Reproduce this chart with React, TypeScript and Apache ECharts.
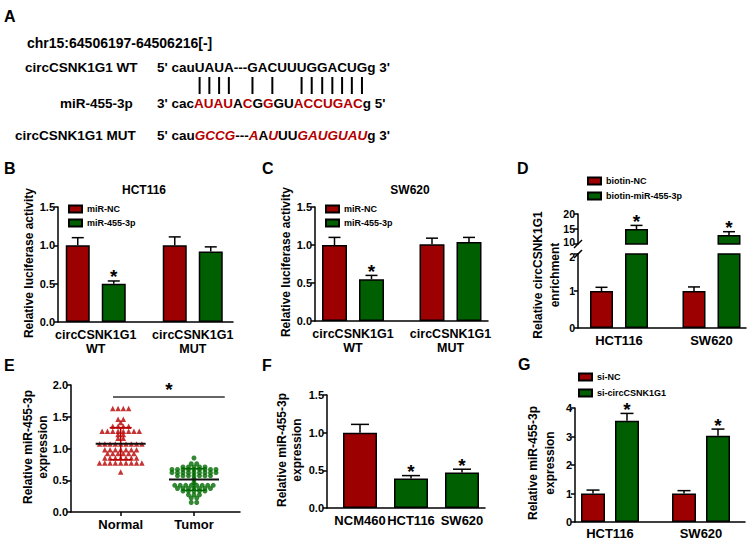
import React, { useEffect, useRef } from "react";
import * as echarts from "echarts";

const FONT = "Liberation Sans";
const BAR_RED = "#9c0000";
const BAR_GREEN = "#005f00";
const SEQ_RED = "#b40000";
const DOT_RED = "#b80000";
const DOT_GREEN = "#006a00";

// ---------- Panel A: sequences ----------
const chrLabel = "chr15:64506197-64506216[-]";
const wtName = "circCSNK1G1 WT";
const mirName = "miR-455-3p";
const mutName = "circCSNK1G1 MUT";
// [text, style] segments, k = black, r = red, ri = red italic
const wtSeq: [string, string][] = [["5' cauUAUA---GACUUUGGACUGg 3'", "k"]];
const mirSeq: [string, string][] = [
  ["3' cac", "k"], ["AUAU", "r"], ["A", "k"], ["C", "r"], ["G", "k"], ["G", "r"],
  ["GU", "k"], ["ACCUGAC", "r"], ["g 5'", "k"],
];
const mutSeq: [string, string][] = [
  ["5' cau", "k"], ["GCCG", "ri"], ["---", "k"], ["A", "ri"], ["A", "k"], ["U", "ri"],
  ["UU", "k"], ["GAUGUAU", "ri"], ["g 3'", "k"],
];
const pairIndex = [6, 7, 8, 9, 13, 15, 18, 19, 20, 21, 22, 23, 24];

// ---------- Panel B: HCT116 luciferase ----------
const bCategories = ["circCSNK1G1\nWT", "circCSNK1G1\nMUT"];
const bSeriesNames = ["miR-NC", "miR-455-3p"];
const bMiRNC = [1.0, 1.0];
const bMiRNCErr = [0.1, 0.11];
const bMiR455 = [0.5, 0.92];
const bMiR455Err = [0.035, 0.06];
const bSig = [true, false];

// ---------- Panel C: SW620 luciferase ----------
const cCategories = ["circCSNK1G1\nWT", "circCSNK1G1\nMUT"];
const cMiRNC = [1.0, 1.01];
const cMiRNCErr = [0.1, 0.08];
const cMiR455 = [0.55, 1.04];
const cMiR455Err = [0.05, 0.06];
const cSig = [true, false];

// ---------- Panel D: pull-down ----------
const dCategories = ["HCT116", "SW620"];
const dSeriesNames = ["biotin-NC", "biotin-miR-455-3p"];
const dBiotinNC = [1.0, 1.0];
const dBiotinNCErr = [0.1, 0.11];
const dBiotinMiR = [15.0, 13.0];
const dBiotinMiRErr = [1.2, 1.1];
const dSig = [true, true];

// ---------- Panel E: tissues ----------
const eCategories = ["Normal", "Tumor"];
const eNormal = [
  1.63, 1.63, 1.63, 1.63,
  1.46, 1.46, 1.41,
  1.35, 1.35, 1.35, 1.35,
  1.27, 1.27, 1.27, 1.27, 1.27, 1.27, 1.27, 1.27,
  1.22, 1.22, 1.16, 1.16,
  1.07, 1.07, 1.07, 1.07, 1.07, 1.07, 1.07, 1.07, 1.07,
  0.98, 0.98, 0.98, 0.98, 0.98, 0.98, 0.98,
  0.92, 0.92, 0.92, 0.92, 0.92, 0.92,
  0.85, 0.85, 0.85, 0.85, 0.85, 0.85, 0.85,
  0.77, 0.77, 0.77, 0.77, 0.77, 0.77, 0.77, 0.77, 0.77,
  0.63,
];
const eTumor = [
  0.85,
  0.76, 0.76,
  0.71, 0.71, 0.71, 0.71, 0.71,
  0.67, 0.67, 0.67, 0.67, 0.67, 0.67, 0.67, 0.67, 0.67,
  0.62, 0.62, 0.62, 0.62, 0.62, 0.62, 0.62, 0.62, 0.62,
  0.57, 0.57, 0.57, 0.57, 0.57, 0.57, 0.57,
  0.52, 0.46,
  0.42, 0.42, 0.42, 0.42, 0.42, 0.42, 0.42, 0.42,
  0.37, 0.37, 0.37, 0.37, 0.37, 0.37, 0.37,
  0.33, 0.33, 0.33, 0.33, 0.33,
  0.27, 0.27, 0.27,
  0.22, 0.22,
  0.15, 0.15,
];
const eSigFrom = 0.895;
const eSigTo = 2.42;
const eSigY = 1.81;

// ---------- Panel F: cell lines ----------
const fCategories = ["NCM460", "HCT116", "SW620"];
const fValues = [1.0, 0.39, 0.47];
const fErrs = [0.11, 0.04, 0.045];
const fSig = [false, true, true];

// ---------- Panel G: knockdown ----------
const gCategories = ["HCT116", "SW620"];
const gSeriesNames = ["si-NC", "si-circCSNK1G1"];
const gSiNC = [1.0, 1.0];
const gSiNCErr = [0.12, 0.1];
const gSiCirc = [3.55, 3.03];
const gSiCircErr = [0.26, 0.23];
const gSig = [true, true];

type Group = { name: string; colors: string[]; values: number[]; errs: number[]; sig: boolean[] };
type BarPanel = {
  axisLeft: number; axisRight: number; top: number; bottom: number;
  barsLeft: number; barsWidth: number;
  yMin: number; yMax: number; yInterval: number; yDecimals: number; yLabelSize?: number;
  nudgeMinUp?: boolean; nudgeMaxDown?: boolean;
  categories: string[]; groups: Group[];
  barWidth: number; gapPx: number; cap: number;
  labelSize: number; labelMargin: number; xLine: boolean; catLabels: boolean;
};

const bold = { color: "#000", fontFamily: FONT, fontWeight: "bold" as const };

function addBarPanel(opt: any, p: BarPanel) {
  const h = p.bottom - p.top;
  const lineStyle = { color: "#000", width: 1.5 };
  const gA = opt.grid.length;
  opt.grid.push({ left: p.axisLeft, top: p.top, width: p.axisRight - p.axisLeft, height: h, outerBoundsMode: "none" });
  opt.xAxis.push({
    gridIndex: gA, type: "value", min: 0, max: 1,
    axisLine: { show: p.xLine, onZero: false, lineStyle },
    axisTick: { show: false }, axisLabel: { show: false }, splitLine: { show: false },
  });
  const ls = p.yLabelSize || 11;
  opt.yAxis.push({
    gridIndex: gA, type: "value", min: p.yMin, max: p.yMax, interval: p.yInterval,
    axisLine: { show: true, onZero: false, lineStyle },
    axisTick: { show: true, length: 4, lineStyle },
    axisLabel: {
      ...bold, fontSize: ls, lineHeight: ls - 1, margin: 3,
      formatter: (v: number) => {
        const s = v.toFixed(p.yDecimals);
        if (p.nudgeMinUp && v === p.yMin) return `{lo|${s}}`;
        if (p.nudgeMaxDown && v === p.yMax) return `{hi|${s}}`;
        return s;
      },
      rich: {
        lo: { ...bold, fontSize: ls, lineHeight: ls - 1, padding: [0, 0, 5, 0] },
        hi: { ...bold, fontSize: ls, lineHeight: ls - 1, padding: [5, 0, 0, 0] },
      },
    },
    splitLine: { show: false },
  });
  const gB = opt.grid.length;
  opt.grid.push({ left: p.barsLeft, top: p.top, width: p.barsWidth, height: h, outerBoundsMode: "none" });
  const xi = opt.xAxis.length;
  opt.xAxis.push({
    gridIndex: gB, type: "category", data: p.categories,
    axisLine: { show: false }, axisTick: { show: false }, splitLine: { show: false },
    axisLabel: { show: p.catLabels, interval: 0, ...bold, fontSize: p.labelSize, lineHeight: 14, margin: p.labelMargin },
  });
  const yi = opt.yAxis.length;
  opt.yAxis.push({ gridIndex: gB, type: "value", min: p.yMin, max: p.yMax, show: false });

  p.groups.forEach((g) => {
    opt.series.push({
      type: "bar", name: g.name, xAxisIndex: xi, yAxisIndex: yi,
      barWidth: p.barWidth, barGap: `${(p.gapPx / p.barWidth) * 100}%`,
      itemStyle: { color: g.colors[0], borderColor: "#000", borderWidth: 1.5 },
      data: g.values.map((v, i) => ({ value: v, itemStyle: { color: g.colors[i % g.colors.length] } })),
      clip: true,
    });
  });
  const n = p.groups.length;
  const errData: number[][] = [];
  p.groups.forEach((g, gi) =>
    g.values.forEach((v, i) => {
      if (v <= p.yMax && v + g.errs[i] >= p.yMin) errData.push([i, v, g.errs[i], gi - (n - 1) / 2, g.sig[i] ? 1 : 0]);
    })
  );
  opt.series.push({
    type: "custom", xAxisIndex: xi, yAxisIndex: yi, data: errData, z: 5,
    renderItem: (_params: any, api: any) => {
      const ci = api.value(0), v = api.value(1), e = api.value(2), off = api.value(3), sig = api.value(4);
      const base = api.coord([ci, v]);
      const top = api.coord([ci, v + e]);
      const x = base[0] + off * (p.barWidth + p.gapPx);
      const st = { stroke: "#000", lineWidth: 1.5 };
      const children: any[] = [
        { type: "line", shape: { x1: x, y1: base[1], x2: x, y2: top[1] }, style: st },
        { type: "line", shape: { x1: x - p.cap, y1: top[1], x2: x + p.cap, y2: top[1] }, style: st },
      ];
      if (sig) {
        children.push({
          type: "text", x, y: top[1] - 4,
          style: { text: "*", fill: "#000", fontFamily: FONT, fontWeight: "bold", fontSize: 19, lineHeight: 12, align: "center", verticalAlign: "middle" },
        });
      }
      return { type: "group", children };
    },
  });
}

function beeswarm(values: number[], spacing: number) {
  const counts = new Map<number, number>();
  values.forEach((v) => counts.set(v, (counts.get(v) || 0) + 1));
  const seen = new Map<number, number>();
  return values.map((v) => {
    const c = counts.get(v)!;
    const k = seen.get(v) || 0;
    seen.set(v, k + 1);
    return (k - (c - 1) / 2) * spacing;
  });
}

function meanSd(values: number[]) {
  const m = values.reduce((a, b) => a + b, 0) / values.length;
  const s = Math.sqrt(values.reduce((a, b) => a + (b - m) * (b - m), 0) / (values.length - 1));
  return [m, s];
}

function richText(segs: [string, string][]) {
  return segs.map(([t, s]) => `{${s}|${t}}`).join("");
}

export default function App() {
  const ref = useRef<HTMLDivElement>(null);
  useEffect(() => {
    if (!ref.current) return;
    const chart = echarts.init(ref.current, null, { renderer: "svg" });

    const seqFontSize = 13.5;
    const seqFont = `bold ${seqFontSize}px "${FONT}"`;
    const ctx = document.createElement("canvas").getContext("2d")!;
    ctx.font = seqFont;
    const seqX = 157;
    const wtText = wtSeq.map((s) => s[0]).join("");
    const pairLines = pairIndex.map((i) => {
      const x = seqX + ctx.measureText(wtText.slice(0, i)).width + ctx.measureText(wtText[i]).width / 2;
      return { type: "line", shape: { x1: x, y1: 77, x2: x, y2: 94 }, style: { stroke: "#000", lineWidth: 2 } };
    });
    const rich = {
      k: { fill: "#000", fontFamily: FONT, fontWeight: "bold", fontSize: seqFontSize },
      r: { fill: SEQ_RED, fontFamily: FONT, fontWeight: "bold", fontSize: seqFontSize },
      ri: { fill: SEQ_RED, fontFamily: FONT, fontWeight: "bold", fontStyle: "italic", fontSize: seqFontSize },
    };
    const txt = (text: string, x: number, y: number, size: number, align = "left", rotation = 0, lineHeight?: number) => ({
      type: "text", x, y, rotation,
      style: { text, fill: "#000", fontFamily: FONT, fontWeight: "bold", fontSize: size, align, verticalAlign: "middle", lineHeight },
    });

    const opt: any = {
      animation: false,
      backgroundColor: "#fff",
      textStyle: { fontFamily: FONT },
      grid: [], xAxis: [], yAxis: [], series: [],
    };

    // Panel B
    addBarPanel(opt, {
      axisLeft: 58, axisRight: 233, top: 207, bottom: 322, barsLeft: 47.25, barsWidth: 194,
      yMin: 0, yMax: 1.5, yInterval: 0.5, yDecimals: 1, categories: bCategories,
      groups: [
        { name: bSeriesNames[0], colors: [BAR_RED], values: bMiRNC, errs: bMiRNCErr, sig: [false, false] },
        { name: bSeriesNames[1], colors: [BAR_GREEN], values: bMiR455, errs: bMiR455Err, sig: bSig },
      ],
      barWidth: 24, gapPx: 12, cap: 6, labelSize: 12.5, labelMargin: 6, xLine: true, catLabels: true,
    });
    // Panel C
    addBarPanel(opt, {
      axisLeft: 315, axisRight: 488, top: 207, bottom: 321, barsLeft: 304.25, barsWidth: 195,
      yMin: 0, yMax: 1.5, yInterval: 0.5, yDecimals: 1, categories: cCategories,
      groups: [
        { name: bSeriesNames[0], colors: [BAR_RED], values: cMiRNC, errs: cMiRNCErr, sig: [false, false] },
        { name: bSeriesNames[1], colors: [BAR_GREEN], values: cMiR455, errs: cMiR455Err, sig: cSig },
      ],
      barWidth: 25, gapPx: 12, cap: 6, labelSize: 12.5, labelMargin: 6, xLine: true, catLabels: true,
    });
    // Panel D (broken axis: lower and upper segments)
    const dGroups: Group[] = [
      { name: dSeriesNames[0], colors: [BAR_RED], values: dBiotinNC, errs: dBiotinNCErr, sig: [false, false] },
      { name: dSeriesNames[1], colors: [BAR_GREEN], values: dBiotinMiR, errs: dBiotinMiRErr, sig: dSig },
    ];
    addBarPanel(opt, {
      axisLeft: 578, axisRight: 746, top: 254, bottom: 328, barsLeft: 572.75, barsWidth: 185,
      yMin: 0, yMax: 2, yInterval: 1, yDecimals: 0, yLabelSize: 10.5, nudgeMaxDown: true,
      categories: dCategories, groups: dGroups,
      barWidth: 23, gapPx: 12, cap: 6, labelSize: 13, labelMargin: 5, xLine: true, catLabels: true,
    });
    addBarPanel(opt, {
      axisLeft: 578, axisRight: 746, top: 214, bottom: 244, barsLeft: 572.75, barsWidth: 185,
      yMin: 10, yMax: 20, yInterval: 5, yDecimals: 0, yLabelSize: 10.5, nudgeMinUp: true,
      categories: dCategories, groups: dGroups,
      barWidth: 23, gapPx: 12, cap: 6, labelSize: 13, labelMargin: 5, xLine: false, catLabels: false,
    });
    // Panel F
    addBarPanel(opt, {
      axisLeft: 327, axisRight: 485, top: 395, bottom: 508, barsLeft: 334.5, barsWidth: 153,
      yMin: 0, yMax: 1.5, yInterval: 0.5, yDecimals: 1, categories: fCategories,
      groups: [{ name: "expression", colors: [BAR_RED, BAR_GREEN, BAR_GREEN], values: fValues, errs: fErrs, sig: fSig }],
      barWidth: 34, gapPx: 0, cap: 9, labelSize: 13, labelMargin: 5, xLine: true, catLabels: true,
    });
    // Panel G
    addBarPanel(opt, {
      axisLeft: 575, axisRight: 745, top: 408, bottom: 522, barsLeft: 564.5, barsWidth: 182,
      yMin: 0, yMax: 4, yInterval: 1, yDecimals: 0, categories: gCategories,
      groups: [
        { name: gSeriesNames[0], colors: [BAR_RED], values: gSiNC, errs: gSiNCErr, sig: [false, false] },
        { name: gSeriesNames[1], colors: [BAR_GREEN], values: gSiCirc, errs: gSiCircErr, sig: gSig },
      ],
      barWidth: 24, gapPx: 10, cap: 6.5, labelSize: 13, labelMargin: 4, xLine: true, catLabels: true,
    });

    // Panel E: scatter
    const lineStyle = { color: "#000", width: 1.5 };
    const gE = opt.grid.length;
    opt.grid.push({ left: 71, top: 385, width: 169, height: 127, outerBoundsMode: "none" });
    const xE = opt.xAxis.length;
    opt.xAxis.push({
      gridIndex: gE, type: "value", min: 0.322, max: 2.628,
      axisLine: { show: true, onZero: false, lineStyle },
      axisTick: { show: true, length: 4, lineStyle, customValues: [1, 2] },
      axisLabel: { ...bold, fontSize: 13, margin: 6, customValues: [1, 2], formatter: (v: number) => eCategories[Math.round(v) - 1] || "" },
      splitLine: { show: false },
    });
    const yE = opt.yAxis.length;
    opt.yAxis.push({
      gridIndex: gE, type: "value", min: 0, max: 2, interval: 0.5,
      axisLine: { show: true, onZero: false, lineStyle },
      axisTick: { show: true, length: 4, lineStyle },
      axisLabel: { ...bold, fontSize: 11, margin: 3, formatter: (v: number) => v.toFixed(1) },
      splitLine: { show: false },
    });
    const nOff = beeswarm(eNormal, 5.3);
    const tOff = beeswarm(eTumor, 5.5);
    opt.series.push({
      type: "scatter", name: eCategories[0], xAxisIndex: xE, yAxisIndex: yE,
      symbol: "triangle", symbolSize: 5.5, itemStyle: { color: DOT_RED },
      data: eNormal.map((v, i) => ({ value: [1, v], symbolOffset: [nOff[i], 0] })),
      markLine: {
        silent: true, symbol: "none",
        lineStyle: { color: "#333", width: 1.5, type: "solid" },
        label: { show: true, position: "middle", formatter: "*", ...bold, fontSize: 19, distance: -2 },
        data: [[{ coord: [eSigFrom, eSigY] }, { coord: [eSigTo, eSigY] }]],
      },
    });
    opt.series.push({
      type: "scatter", name: eCategories[1], xAxisIndex: xE, yAxisIndex: yE,
      symbol: "circle", symbolSize: 5, itemStyle: { color: DOT_GREEN },
      data: eTumor.map((v, i) => ({ value: [2, v], symbolOffset: [tOff[i], 0] })),
    });
    const [mN, sN] = meanSd(eNormal);
    const [mT, sT] = meanSd(eTumor);
    const eColors = [DOT_RED, DOT_GREEN];
    opt.series.push({
      type: "custom", xAxisIndex: xE, yAxisIndex: yE, z: 6,
      data: [[1, mN, sN, 0], [2, mT, sT, 1]],
      renderItem: (_p: any, api: any) => {
        const x = api.value(0), m = api.value(1), s = api.value(2);
        const col = eColors[api.value(3)];
        const pm = api.coord([x, m]), pt = api.coord([x, m + s]), pb = api.coord([x, m - s]);
        const st = { stroke: col, lineWidth: 1.5 };
        return {
          type: "group",
          children: [
            { type: "line", shape: { x1: pm[0], y1: pt[1], x2: pm[0], y2: pb[1] }, style: st },
            { type: "line", shape: { x1: pm[0] - 11, y1: pt[1], x2: pm[0] + 11, y2: pt[1] }, style: st },
            { type: "line", shape: { x1: pm[0] - 11, y1: pb[1], x2: pm[0] + 11, y2: pb[1] }, style: st },
            { type: "line", shape: { x1: pm[0] - 25, y1: pm[1], x2: pm[0] + 25, y2: pm[1] }, style: { stroke: "#111", lineWidth: 2 } },
          ],
        };
      },
    });

    const legendBase = {
      orient: "vertical", icon: "rect", itemWidth: 13, itemHeight: 7, selectedMode: false, padding: 0,
      textStyle: { ...bold, fontSize: 9, lineHeight: 10 },
    };
    opt.legend = [
      { ...legendBase, left: 68, top: 204, itemGap: 4, data: bSeriesNames },
      { ...legendBase, left: 325, top: 204, itemGap: 4, data: bSeriesNames },
      { ...legendBase, left: 587, top: 176, itemGap: 5, data: dSeriesNames },
      { ...legendBase, left: 578, top: 372, itemGap: 6, data: gSeriesNames },
    ];

    opt.graphic = [
      // panel letters
      txt("A", 4, 16, 16), txt("B", 4, 168, 16), txt("C", 262, 168, 16), txt("D", 517, 168, 16),
      txt("E", 4, 365, 16), txt("F", 262, 365, 16), txt("G", 518, 364, 16),
      // panel A
      txt(chrLabel, 27, 43, 14),
      txt(wtName, 25, 67, 13.5),
      txt(mirName, 60, 103, 13.5),
      txt(mutName, 15, 135, 13.5),
      { type: "text", x: seqX, y: 67, style: { text: richText(wtSeq), rich, verticalAlign: "middle", align: "left" } },
      { type: "text", x: seqX, y: 103, style: { text: richText(mirSeq), rich, verticalAlign: "middle", align: "left" } },
      { type: "text", x: seqX, y: 135, style: { text: richText(mutSeq), rich, verticalAlign: "middle", align: "left" } },
      ...pairLines,
      // titles
      txt("HCT116", 144, 190, 12, "center"),
      txt("SW620", 410, 190, 12, "center"),
      // y-axis titles
      txt("Relative luciferase activity", 29, 263, 12, "center", Math.PI / 2),
      txt("Relative luciferase activity", 286, 262, 12, "center", Math.PI / 2),
      txt("Relative circCSNK1G1\nenrichment", 546.5, 275, 12, "center", Math.PI / 2, 17),
      txt("Relative miR-455-3p\nexpression", 35.5, 447, 12, "center", Math.PI / 2, 15),
      txt("Relative miR-455-3p\nexpression", 289.5, 450, 12, "center", Math.PI / 2, 15),
      txt("Relative miR-455-3p\nexpression", 541.5, 463, 12, "center", Math.PI / 2, 17),
      // axis break marks for panel D
      { type: "line", shape: { x1: 574, y1: 248, x2: 582, y2: 240 }, style: { stroke: "#000", lineWidth: 1.5 } },
      { type: "line", shape: { x1: 574, y1: 258, x2: 582, y2: 250 }, style: { stroke: "#000", lineWidth: 1.5 } },
    ];

    chart.setOption(opt);
    return () => chart.dispose();
  }, []);

  return <div ref={ref} style={{ position: "absolute", left: 0, top: 0, width: 753, height: 539, background: "#fff" }} />;
}
